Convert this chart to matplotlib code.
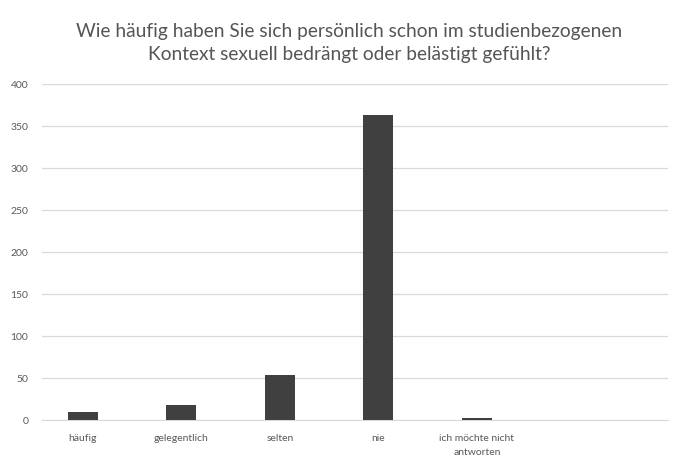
import numpy as np
import matplotlib.pyplot as plt

# survey answers and counts
categories = ["häufig", "gelegentlich", "selten", "nie", "ich möchte nicht\nantworten"]
counts = [10, 18, 54, 363, 2]
yticks = [0, 50, 100, 150, 200, 250, 300, 350, 400]

plt.rcParams['font.family'] = ['Lato', 'DejaVu Sans']

fig = plt.figure(figsize=(6.78, 4.62), dpi=100)
ax = fig.add_axes([0.062, 0.0909, 0.923, 0.727])

x = np.arange(len(categories))
ax.bar(x, counts, width=0.305, color='#404040', zorder=3)

ax.set_ylim(0, 400)
ax.set_xlim(-0.416, 5.94)
ax.set_yticks(yticks)
ax.set_yticklabels([str(v) for v in yticks], color='#595959', fontsize=7.5)
ax.set_xticks(x)
ax.set_xticklabels(categories, color='#595959', fontsize=7.5, linespacing=1.8)
ax.tick_params(length=0, pad=10)
ax.tick_params(axis='y', pad=10)

ax.grid(axis='y', color='#d9d9d9', linewidth=0.9, zorder=0)
for s in ['top', 'right', 'left']:
    ax.spines[s].set_visible(False)
ax.spines['bottom'].set_color('#d9d9d9')

fig.text(0.515, 0.907, "Wie häufig haben Sie sich persönlich schon im studienbezogenen\n"
         "Kontext sexuell bedrängt oder belästigt gefühlt?",
         ha='center', va='center', fontsize=13.8, color='#555555', linespacing=1.45)

fig.savefig('out.png', dpi=100)
